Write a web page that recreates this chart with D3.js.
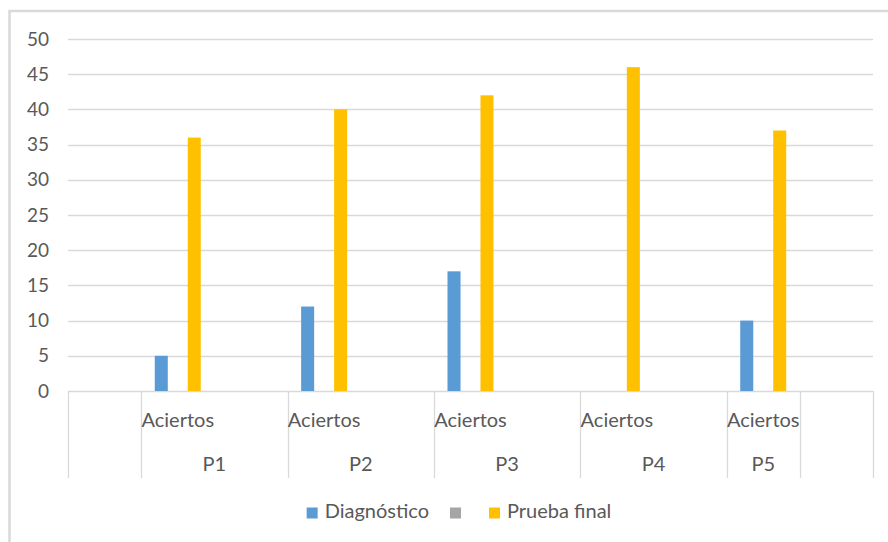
<!DOCTYPE html>
<html>
<head>
<meta charset="utf-8">
<script src="https://cdn.jsdelivr.net/npm/d3@7"></script>
<style>
  html, body { margin: 0; padding: 0; background: #fff; }
  svg { display: block; font-family: Lato, "Open Sans", sans-serif; }
</style>
</head>
<body>
<svg id="chart" width="888" height="542"></svg>
<script>
// Inner category labels (one per slot on the x axis)
const innerLabels = ["", "Aciertos", "", "Aciertos", "", "Aciertos", "", "Aciertos", "", "Aciertos", ""];
// Outer category groups and how many slots each spans
const groupLabels = ["", "P1", "P2", "P3", "P4", "P5", ""];
const groupSpans  = [1, 2, 2, 2, 2, 1, 1];

// Series
const seriesNames = ["Diagnóstico", "", "Prueba final"];
const diagnostico = [null, 5, null, 12, null, 17, null, null, null, 10, null];
const serieVacia  = [null, null, null, null, null, null, null, null, null, null, null];
const pruebaFinal = [null, 36, null, 40, null, 42, null, 46, null, 37, null];
const seriesColors = ["#5b9bd5", "#a5a5a5", "#ffc000"];

// Value axis ticks
const yTicks = [0, 5, 10, 15, 20, 25, 30, 35, 40, 45, 50];

const seriesValues = [diagnostico, serieVacia, pruebaFinal];

const svg = d3.select("#chart");
const textColor = "#595959";
const gridColor = "#d9d9d9";

// outer frame (only top and left edges fall inside the view)
svg.append("rect")
  .attr("x", 9.5).attr("y", 11).attr("width", 900).attr("height", 600)
  .attr("fill", "none").attr("stroke", gridColor).attr("stroke-width", 2.5);

const plotLeft = 68, plotRight = 873, plotTop = 39, plotBottom = 391;
const axisBottom = 478;

const slots = d3.range(innerLabels.length);
const x0 = d3.scaleBand().domain(slots).range([plotLeft, plotRight]).padding(0);
const x1 = d3.scaleBand().domain(d3.range(seriesNames.length)).range([-23, 23]).paddingInner(0.21);
const y = d3.scaleLinear().domain([0, 50]).range([plotBottom, plotTop]);

// gridlines
svg.append("g").selectAll("line").data(yTicks).join("line")
  .attr("x1", plotLeft).attr("x2", plotRight)
  .attr("y1", d => Math.round(y(d)) + 0.5).attr("y2", d => Math.round(y(d)) + 0.5)
  .attr("stroke", gridColor).attr("stroke-width", 1.3);

// value tick labels
svg.append("g").selectAll("text").data(yTicks).join("text")
  .attr("x", 49).attr("y", d => y(d)).attr("dy", "0.35em")
  .attr("text-anchor", "end").attr("fill", textColor).attr("font-size", 19)
  .text(d => d);

// bars
const bars = [];
seriesValues.forEach((vals, s) => {
  vals.forEach((v, i) => { if (v != null) bars.push({ s, i, v }); });
});
svg.append("g").selectAll("rect").data(bars).join("rect")
  .attr("x", d => x0(d.i) + x0.bandwidth() / 2 + x1(d.s))
  .attr("width", x1.bandwidth())
  .attr("y", d => y(d.v))
  .attr("height", d => y(0) - y(d.v))
  .attr("fill", d => seriesColors[d.s]);

// category axis: group boundaries
let cum = 0;
const bounds = [0];
groupSpans.forEach(n => { cum += n; bounds.push(cum); });
svg.append("g").selectAll("line").data(bounds).join("line")
  .attr("x1", d => Math.round(x0(0) + d * x0.step()) + 0.5)
  .attr("x2", d => Math.round(x0(0) + d * x0.step()) + 0.5)
  .attr("y1", plotBottom).attr("y2", axisBottom)
  .attr("stroke", gridColor).attr("stroke-width", 1.3);

// inner labels
svg.append("g").selectAll("text").data(innerLabels).join("text")
  .attr("x", (d, i) => x0(i) + x0.bandwidth() / 2)
  .attr("y", 427)
  .attr("text-anchor", "middle").attr("fill", textColor).attr("font-size", 20)
  .text(d => d);

// group labels
svg.append("g").selectAll("text").data(groupLabels).join("text")
  .attr("x", (d, i) => x0(0) + (bounds[i] + bounds[i + 1]) / 2 * x0.step())
  .attr("y", 471)
  .attr("text-anchor", "middle").attr("fill", textColor).attr("font-size", 20)
  .text(d => d);

// legend
const legend = svg.append("g");
const items = legend.selectAll("g").data(seriesNames).join("g");
items.append("rect").attr("width", 11).attr("height", 11).attr("y", 507.5)
  .attr("fill", (d, i) => seriesColors[i]);
items.append("text").attr("x", 18).attr("y", 518)
  .attr("fill", textColor).attr("font-size", 20).text(d => d);
let lx = 0;
const offsets = [];
items.each(function () {
  offsets.push(lx);
  const w = d3.select(this).select("text").node().getComputedTextLength();
  lx += 18 + w + 21;
});
const totalW = lx - 21;
const startX = 459 - totalW / 2;
items.attr("transform", (d, i) => `translate(${startX + offsets[i]},0)`);
</script>
</body>
</html>
